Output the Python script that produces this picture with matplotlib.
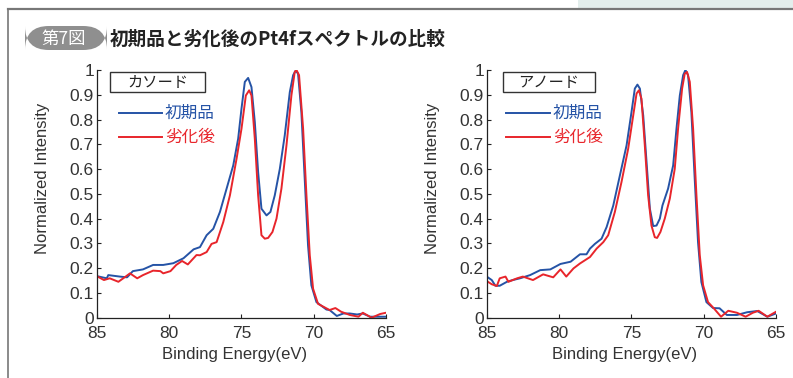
import matplotlib.pyplot as plt
from matplotlib.patches import Rectangle, FancyBboxPatch
from matplotlib.lines import Line2D

plt.rcParams['font.family'] = ['Liberation Sans', 'Noto Sans CJK JP', 'DejaVu Sans']
jp_font = ['Noto Sans CJK JP', 'DejaVu Sans']
narrow = ['Liberation Sans Narrow', 'Liberation Sans']

# Binding energy (eV) and normalized intensity
cath_e_init = [85, 84.3, 84.2, 83.4, 82.9, 82.5, 81.8, 81.1, 80.4, 79.7, 79.0, 78.3,
               77.86, 77.40, 76.94, 76.48, 76.02, 75.56, 75.22, 74.99, 74.76, 74.53, 74.30,
               74.07, 73.84, 73.61, 73.26, 72.99, 72.69, 72.34, 72.0, 71.65, 71.42, 71.24,
               71.08, 70.85, 70.62, 70.39, 70.16, 69.81, 69.12,
               68.9, 68.4, 67.95, 67.5, 67.0, 66.6, 66.1, 65.4, 65]
cath_i_init = [0.168, 0.159, 0.172, 0.166, 0.163, 0.188, 0.195, 0.213, 0.213, 0.22, 0.24, 0.276,
               0.285, 0.333, 0.359, 0.427, 0.521, 0.615, 0.723, 0.844, 0.952, 0.968, 0.931,
               0.79, 0.588, 0.44, 0.413, 0.427, 0.494, 0.601, 0.736, 0.911, 0.979, 0.998,
               0.985, 0.83, 0.561, 0.292, 0.131, 0.063, 0.033,
               0.031, 0.007, 0.017, 0.017, 0.013, 0.017, 0.004, 0.004, 0.004]

cath_e_deg = [85, 84.5, 84.1, 83.5, 83.0, 82.7, 82.2, 81.8, 81.1, 80.6, 80.4, 79.9, 79.5, 79.1,
              78.7, 78.1,
              77.86, 77.40, 77.06, 76.71, 76.25, 75.79, 75.33, 74.99, 74.69, 74.46, 74.30,
              74.07, 73.84, 73.61, 73.38, 73.15, 72.85, 72.57, 72.23, 71.88, 71.54, 71.31,
              71.19, 71.01, 70.73, 70.50, 70.27, 70.04, 69.70,
              68.9, 68.5, 68.1, 67.5, 66.9, 66.6, 66.0, 65.4, 65]
cath_i_deg = [0.168, 0.152, 0.159, 0.145, 0.166, 0.179, 0.159, 0.172, 0.19, 0.188, 0.179, 0.188,
              0.213, 0.229, 0.215, 0.253,
              0.252, 0.265, 0.298, 0.305, 0.386, 0.494, 0.642, 0.763, 0.897, 0.918, 0.897,
              0.723, 0.494, 0.333, 0.319, 0.322, 0.346, 0.4, 0.521, 0.696, 0.897, 0.992,
              1.0, 0.979, 0.763, 0.494, 0.252, 0.117, 0.056,
              0.031, 0.039, 0.024, 0.011, 0.004, 0.02, 0.0, 0.015, 0.02]

anod_e_init = [85, 84.65, 84.4, 84.1, 83.6, 83.2, 82.7, 82.0, 81.3, 80.6, 79.9, 79.2, 78.55,
               78.1,
               77.86, 77.52, 77.06, 76.71, 76.25, 75.79, 75.33, 74.99, 74.76, 74.58, 74.41,
               74.18, 73.95, 73.72, 73.49, 73.26, 73.03, 72.85, 72.46, 72.11, 71.88, 71.65,
               71.42, 71.26, 71.08, 70.85, 70.62, 70.39, 70.16, 69.81, 69.35,
               68.9, 68.4, 67.7, 67.0, 66.3, 65.6, 65]
anod_i_init = [0.166, 0.152, 0.129, 0.129, 0.145, 0.152, 0.159, 0.172, 0.192, 0.195, 0.217,
               0.226, 0.256, 0.256,
               0.279, 0.298, 0.319, 0.366, 0.453, 0.575, 0.696, 0.83, 0.925, 0.941, 0.925,
               0.817, 0.629, 0.44, 0.37, 0.372, 0.4, 0.453, 0.521, 0.615, 0.763, 0.897,
               0.979, 1.0, 0.979, 0.83, 0.561, 0.305, 0.144, 0.063, 0.039,
               0.038, 0.011, 0.011, 0.022, 0.027, 0.004, 0.017]

anod_e_deg = [85, 84.65, 84.3, 84.1, 83.7, 83.5, 82.9, 82.5, 81.8, 81.1, 80.4, 79.9, 79.5,
              79.0, 78.55,
              77.86, 77.40, 76.94, 76.60, 76.14, 75.68, 75.22, 74.87, 74.64, 74.48, 74.30,
              74.07, 73.84, 73.61, 73.38, 73.22, 72.99, 72.69, 72.34, 72.00, 71.77, 71.49,
              71.31, 71.15, 70.96, 70.73, 70.50, 70.27, 70.04, 69.70,
              69.3, 68.8, 68.3, 67.7, 67.1, 66.6, 66.2, 65.6, 65]
anod_i_deg = [0.148, 0.135, 0.128, 0.159, 0.166, 0.145, 0.159, 0.166, 0.152, 0.175, 0.163,
              0.195, 0.166, 0.199, 0.219,
              0.245, 0.279, 0.305, 0.333, 0.427, 0.548, 0.682, 0.817, 0.905, 0.918, 0.884,
              0.696, 0.494, 0.372, 0.325, 0.322, 0.346, 0.4, 0.481, 0.601, 0.763, 0.925,
              0.985, 0.992, 0.952, 0.763, 0.494, 0.252, 0.131, 0.063,
              0.038, 0.004, 0.028, 0.02, 0.004, 0.02, 0.028, 0.004, 0.024]

panel_names = ['カソード', 'アノード']
series_names = ['初期品', '劣化後']
blue = '#2553a6'
red = '#e8252b'
txt = '#333333'

fig = plt.figure(figsize=(7.93, 3.78), dpi=100)

# frame lines around the figure block
fig.add_artist(Rectangle((578 / 793, 1 - 9 / 378), 215 / 793, 9 / 378,
                         transform=fig.transFigure, fc='#e3eeec', ec='none'))
fig.add_artist(Line2D([8 / 793, 1], [1 - 9 / 378] * 2, transform=fig.transFigure,
                      color='#777777', lw=1.6))
fig.add_artist(Line2D([8 / 793] * 2, [0, 1 - 9 / 378], transform=fig.transFigure,
                      color='#777777', lw=1.2))

# title pill + title
fig.add_artist(FancyBboxPatch((25 / 793, 1 - 50 / 378), 82 / 793, 24 / 378,
                              boxstyle='round,pad=0,rounding_size=0.03',
                              transform=fig.transFigure, fc='#8f8f8f', ec='none',
                              mutation_aspect=793 / 378))
fig.text(64 / 793, 1 - 39 / 378, '第7図', color='white', fontsize=12.5,
         ha='center', va='center', family=jp_font)
fig.text(110 / 793, 1 - 39 / 378, '初期品と劣化後のPt4fスペクトルの比較', color='#222222',
         fontsize=13.4, fontweight='bold', ha='left', va='center', family=jp_font)

panels = [
    (96.7, cath_e_init, cath_i_init, cath_e_deg, cath_i_deg, (0.046, 0.375), (0.077, 0.226)),
    (486.7, anod_e_init, anod_i_init, anod_e_deg, anod_i_deg, (0.056, 0.374), (0.067, 0.219)),
]

for k, (x0, e1, i1, e2, i2, box_x, leg_x) in enumerate(panels):
    ax = fig.add_axes([x0 / 793, (378 - 317.7) / 378, 289.3 / 793, 247.7 / 378])
    ax.plot(e1, i1, color=blue, lw=1.4)
    ax.plot(e2, i2, color=red, lw=1.4)
    ax.set_xlim(85, 65)
    ax.set_ylim(0, 1)
    ax.set_xticks([85, 80, 75, 70, 65])
    ax.set_xticklabels(['85', '80', '75', '70', '65'])
    ax.set_yticks([0, 0.1, 0.2, 0.3, 0.4, 0.5, 0.6, 0.7, 0.8, 0.9, 1])
    ax.set_yticklabels(['0', '0.1', '0.2', '0.3', '0.4', '0.5', '0.6', '0.7', '0.8', '0.9', '1'])
    ax.spines['top'].set_visible(False)
    ax.spines['right'].set_visible(False)
    for s in ['left', 'bottom']:
        ax.spines[s].set_color('#222222')
        ax.spines[s].set_linewidth(0.9)
    ax.tick_params(direction='in', length=3, width=0.8, colors='#222222',
                   labelsize=12.5, labelcolor=txt)
    ax.tick_params(axis='y', pad=2)
    ax.tick_params(axis='x', pad=6)
    ax.set_xlabel('Binding Energy(eV)', fontsize=12, color=txt, family=narrow)
    ax.set_ylabel('Normalized Intensity', fontsize=12, color=txt, family=narrow)
    ax.xaxis.set_label_coords(0.475, -0.118)
    ax.yaxis.set_label_coords(-0.163, 0.564)

    # panel name box
    ax.add_patch(Rectangle((box_x[0], 0.91), box_x[1] - box_x[0], 0.08,
                           transform=ax.transAxes, fc='white', ec='#333333', lw=1.0,
                           clip_on=False))
    ax.text((box_x[0] + box_x[1]) / 2, 0.95, panel_names[k], transform=ax.transAxes,
            ha='center', va='center', fontsize=11, color='#222222', family=jp_font)

    # legend
    for yy, col, name in [(0.826, blue, series_names[0]), (0.729, red, series_names[1])]:
        ax.add_line(Line2D(leg_x, [yy, yy], transform=ax.transAxes, color=col, lw=1.4))
        ax.text(leg_x[1] + 0.01, yy, name, transform=ax.transAxes, ha='left',
                va='center', fontsize=12, color=col, family=jp_font)

fig.savefig('out.png', dpi=100)
